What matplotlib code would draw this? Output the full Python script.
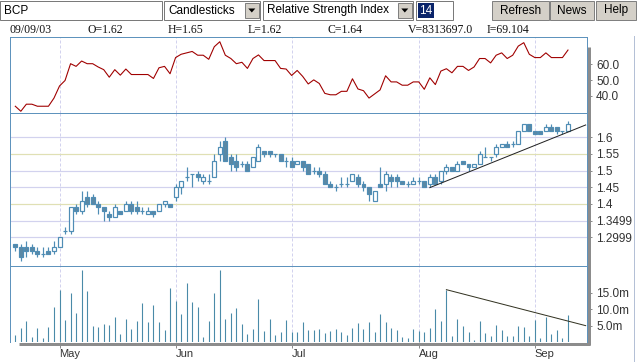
import matplotlib
matplotlib.use("Agg")
import matplotlib.pyplot as plt
from matplotlib.patches import Rectangle, Polygon

# ---- data (one bar per trading day, 101 days) ----
opens = [1.28, 1.27, 1.27, 1.27, 1.26, 1.25, 1.26, 1.26, 1.27, 1.32,
         1.32, 1.39, 1.38, 1.42, 1.42, 1.40, 1.39, 1.37, 1.36, 1.38,
         1.38, 1.40, 1.39, 1.38, 1.37, 1.38, 1.38, 1.40, 1.40, 1.42,
         1.45, 1.48, 1.49, 1.49, 1.47, 1.47, 1.48, 1.55, 1.59, 1.54,
         1.53, 1.52, 1.52, 1.51, 1.53, 1.56, 1.56, 1.55, 1.55, 1.53,
         1.53, 1.52, 1.53, 1.52, 1.50, 1.50, 1.49, 1.46, 1.45, 1.46,
         1.46, 1.47, 1.48, 1.46, 1.45, 1.41, 1.46, 1.46, 1.48, 1.48,
         1.47, 1.46, 1.46, 1.47, 1.47, 1.46, 1.48, 1.47, 1.50, 1.51,
         1.50, 1.53, 1.52, 1.51, 1.52, 1.54, 1.54, 1.55, 1.57, 1.58,
         1.58, 1.58, 1.62, 1.64, 1.62, 1.62, 1.62, 1.63, 1.63, 1.62,
         1.62]
highs = [1.28, 1.28, 1.29, 1.28, 1.27, 1.27, 1.27, 1.29, 1.30, 1.33,
         1.39, 1.40, 1.44, 1.44, 1.43, 1.41, 1.39, 1.38, 1.40, 1.38,
         1.41, 1.41, 1.41, 1.39, 1.39, 1.38, 1.40, 1.41, 1.40, 1.46,
         1.47, 1.51, 1.49, 1.50, 1.49, 1.49, 1.55, 1.59, 1.60, 1.55,
         1.55, 1.53, 1.53, 1.54, 1.58, 1.56, 1.56, 1.55, 1.55, 1.54,
         1.54, 1.53, 1.53, 1.52, 1.51, 1.51, 1.50, 1.47, 1.46, 1.48,
         1.48, 1.49, 1.49, 1.47, 1.45, 1.44, 1.51, 1.50, 1.49, 1.49,
         1.47, 1.47, 1.48, 1.48, 1.47, 1.49, 1.49, 1.50, 1.52, 1.51,
         1.53, 1.53, 1.52, 1.52, 1.56, 1.57, 1.54, 1.58, 1.58, 1.59,
         1.59, 1.62, 1.64, 1.64, 1.62, 1.62, 1.64, 1.64, 1.63, 1.62,
         1.65]
lows = [1.26, 1.23, 1.24, 1.25, 1.24, 1.24, 1.25, 1.25, 1.27, 1.31,
        1.31, 1.37, 1.37, 1.39, 1.40, 1.37, 1.35, 1.35, 1.36, 1.37,
        1.38, 1.37, 1.37, 1.37, 1.37, 1.36, 1.38, 1.39, 1.39, 1.41,
        1.43, 1.47, 1.45, 1.47, 1.46, 1.46, 1.48, 1.53, 1.53, 1.50,
        1.50, 1.51, 1.50, 1.51, 1.53, 1.54, 1.54, 1.54, 1.53, 1.51,
        1.51, 1.52, 1.50, 1.49, 1.49, 1.48, 1.46, 1.45, 1.44, 1.45,
        1.45, 1.47, 1.45, 1.44, 1.41, 1.41, 1.45, 1.44, 1.45, 1.45,
        1.46, 1.45, 1.46, 1.46, 1.45, 1.45, 1.46, 1.46, 1.49, 1.50,
        1.50, 1.52, 1.50, 1.51, 1.52, 1.54, 1.53, 1.54, 1.57, 1.57,
        1.57, 1.58, 1.62, 1.62, 1.61, 1.61, 1.62, 1.62, 1.61, 1.61,
        1.62]
closes = [1.27, 1.24, 1.26, 1.26, 1.25, 1.25, 1.25, 1.27, 1.30, 1.32,
          1.39, 1.38, 1.41, 1.40, 1.40, 1.39, 1.38, 1.36, 1.39, 1.37,
          1.40, 1.38, 1.38, 1.38, 1.38, 1.37, 1.40, 1.41, 1.39, 1.45,
          1.47, 1.48, 1.49, 1.48, 1.48, 1.47, 1.53, 1.57, 1.53, 1.52,
          1.51, 1.52, 1.50, 1.54, 1.57, 1.55, 1.55, 1.55, 1.53, 1.53,
          1.51, 1.53, 1.51, 1.49, 1.50, 1.49, 1.46, 1.45, 1.45, 1.46,
          1.46, 1.49, 1.46, 1.45, 1.43, 1.44, 1.45, 1.49, 1.47, 1.47,
          1.46, 1.46, 1.47, 1.47, 1.45, 1.48, 1.46, 1.50, 1.51, 1.50,
          1.52, 1.52, 1.51, 1.52, 1.55, 1.54, 1.54, 1.57, 1.58, 1.57,
          1.58, 1.62, 1.64, 1.62, 1.61, 1.61, 1.63, 1.62, 1.62, 1.62,
          1.64]
rsi = [33.3, 30.1, 34.6, 34.6, 33.3, 33.3, 33.3, 38.5, 46.2, 49.7,
       60.4, 58.7, 62.1, 60.4, 60.4, 58.3, 56.6, 51.8, 56.6, 53.1,
       57.0, 53.5, 53.5, 53.5, 53.5, 51.0, 57.8, 58.7, 54.0, 64.3,
       66.4, 67.3, 68.2, 65.8, 65.8, 63.2, 71.2, 74.4, 65.8, 63.7,
       60.4, 61.3, 57.4, 63.7, 66.0, 62.4, 62.4, 62.4, 57.4, 57.0,
       52.9, 56.1, 52.3, 47.5, 50.1, 47.8, 41.5, 40.6, 40.6, 42.8,
       42.8, 50.8, 44.3, 43.2, 38.5, 41.1, 43.7, 52.7, 48.8, 48.8,
       46.7, 46.7, 48.8, 48.8, 44.1, 51.4, 47.1, 55.7, 57.2, 54.6,
       58.7, 58.7, 56.1, 58.3, 63.7, 63.7, 60.9, 65.8, 67.3, 63.7,
       65.8, 71.6, 73.8, 66.4, 64.3, 64.3, 67.3, 64.3, 64.3, 64.3,
       69.1]
volume_m = [2.2, 4.4, 6.5, 1.6, 4.4, 1.3, 4.7, 10.8, 16.0, 6.8,
            15.1, 9.0, 22.1, 15.7, 5.0, 4.7, 5.6, 5.3, 7.7, 2.5,
            7.1, 4.1, 6.5, 12.0, 6.2, 11.4, 6.2, 3.8, 16.6, 12.6,
            8.7, 18.1, 12.3, 10.8, 1.6, 6.5, 15.1, 22.1, 7.1, 9.0,
            10.5, 5.6, 2.5, 4.1, 13.2, 3.5, 7.1, 2.2, 3.2, 6.8,
            3.2, 3.2, 6.2, 3.8, 3.8, 4.1, 2.8, 3.5, 4.1, 3.2,
            2.2, 4.4, 5.9, 4.1, 6.2, 3.2, 8.7, 6.2, 4.4, 3.8,
            1.6, 1.3, 4.1, 3.5, 3.2, 4.4, 10.2, 6.5, 16.0, 1.9,
            7.1, 5.0, 3.2, 0.7, 6.5, 2.8, 1.9, 5.3, 3.8, 1.9,
            1.9, 5.0, 4.7, 1.9, 6.8, 1.3, 7.7, 2.5, 3.8, 1.3,
            8.3]

month_idx = [8, 29, 50, 73, 94]
month_labels = ["May", "Jun", "Jul", "Aug", "Sep"]

price_ticks = [1.2999, 1.3499, 1.4, 1.45, 1.5, 1.55, 1.6]
price_tick_labels = ["1.2999", "1.3499", "1.4", "1.45", "1.5", "1.55", "1.6"]
rsi_ticks = [40, 50, 60]
rsi_tick_labels = ["40.0", "50.0", "60.0"]
vol_ticks = [5, 10, 15]
vol_tick_labels = ["5.0m", "10.0m", "15.0m"]

# hand drawn trend lines (index, value)
price_trend_x = [75, 103.2]
price_trend_y = [1.449, 1.637]
vol_trend_x = [78, 103.2]
vol_trend_y = [16.0, 5.0]

info_texts = ["09/09/03", "O=1.62", "H=1.65", "L=1.62", "C=1.64",
              "V=8313697.0", "I=69.104"]

# ---- styling ----
SANS = ["Liberation Sans", "DejaVu Sans"]
SERIF = ["Liberation Serif", "DejaVu Serif"]
PX = 0.72  # one pixel in points at 100 dpi
EDGE = "#4f8db5"
FILL = "#5b88a4"
SPINE = "#5e93bd"
GRID = "#d2d2ee"
GRID_Y = "#e0e0b4"
GREY = "#8c8c8c"

W, H = 637, 362
fig = plt.figure(figsize=(W / 100, H / 100), dpi=100)


def box(x0, y0, x1, y1):
    # pixel box (top-left origin) -> figure fraction rect
    return [x0 / W, 1 - y1 / H, (x1 - x0) / W, (y1 - y0) / H]


# background layer for the toolbar and the info row
bg = fig.add_axes([0, 0, 1, 1], zorder=0)
bg.set_xlim(0, W)
bg.set_ylim(H, 0)
bg.axis("off")


def field(x0, x1, text, arrow=False):
    bg.add_patch(Rectangle((x0, 0.5), x1 - x0, 19, facecolor="white",
                           edgecolor="#7a7a7a", lw=PX))
    bg.text(x0 + 4, 10.5, text, fontsize=8.5, va="center", family=SANS)
    if arrow:
        bg.add_patch(Rectangle((x1 - 15, 2.5), 13.5, 15, facecolor="#d4d0c8",
                               edgecolor="#808080", lw=PX))
        cx = x1 - 8.2
        bg.add_patch(Polygon([[cx - 3.5, 8.5], [cx + 3.5, 8.5], [cx, 12.5]],
                             closed=True, facecolor="black", edgecolor="none"))


def button(x0, x1, text):
    bg.add_patch(Rectangle((x0, 0.5), x1 - x0, 19, facecolor="#d4d0c8",
                           edgecolor="#808080", lw=PX))
    bg.text((x0 + x1) / 2, 10.5, text, fontsize=8.5, va="center", ha="center",
            family=SANS)


field(0, 162, "BCP")
field(164, 260, "Candlesticks", arrow=True)
field(263, 413, "Relative Strength Index", arrow=True)
bg.add_patch(Rectangle((416, 0.5), 37, 19, facecolor="white",
                       edgecolor="#7a7a7a", lw=PX))
bg.add_patch(Rectangle((418, 3), 16, 14.5, facecolor="#0a246a", edgecolor="none"))
bg.text(419, 10.5, "14", fontsize=8.5, va="center", color="white", family=SANS)
button(492, 549, "Refresh")
button(550, 594, "News")
button(596, 636, "Help")

info_x = [9, 88, 168, 248, 328, 408, 487]
for x, t in zip(info_x, info_texts):
    bg.text(x, 30, t, fontsize=8.5, va="center", family=SERIF, color="#111111")

# ---- the three panels ----
ax_r = fig.add_axes(box(9.5, 36.7, 587, 113.3), zorder=2)
ax_c = fig.add_axes(box(9.5, 113.3, 587, 265.7), zorder=2)
ax_v = fig.add_axes(box(9.5, 265.7, 587, 342), zorder=2)

n = len(closes)
idx = list(range(n))

for ax in (ax_r, ax_c, ax_v):
    ax.set_xlim(-1.05, 103.44)
    for s in ax.spines.values():
        s.set_color(SPINE)
        s.set_linewidth(PX)
    ax.yaxis.tick_right()
    ax.tick_params(axis="y", direction="out", length=3.6, width=PX,
                   color=GREY, labelsize=8.5, labelcolor="#333333", pad=2.9)
    ax.set_xticks(month_idx)
    for m in month_idx:
        ax.axvline(m, color=GRID, lw=PX, ls=(0, (3, 2)), zorder=0)

ax_v.spines["bottom"].set_visible(False)

# RSI panel
ax_r.set_ylim(28.8, 77.6)
ax_r.plot(idx, rsi, color="#a00000", lw=PX * 1.1)
ax_r.set_yticks(rsi_ticks)
ax_r.set_yticklabels(rsi_tick_labels, family=SANS)
ax_r.tick_params(axis="x", length=0, labelbottom=False)

# candlestick panel
ax_c.set_ylim(1.2148, 1.672)
ax_c.set_yticks(price_ticks)
ax_c.set_yticklabels(price_tick_labels, family=SANS)
ax_c.tick_params(axis="x", length=0, labelbottom=False)
for t in price_ticks:
    col = GRID_Y if t in (1.55, 1.4) else GRID
    ax_c.axhline(t, color=col, lw=PX * 1.2, zorder=0)

bw = 0.72
for i in idx:
    o, h, l, c = opens[i], highs[i], lows[i], closes[i]
    ax_c.vlines(i, l, h, color=EDGE, lw=PX * 1.2, zorder=2)
    if c > o:
        ax_c.add_patch(Rectangle((i - bw / 2, o), bw, c - o, facecolor="white",
                                 edgecolor=EDGE, lw=PX * 1.2, zorder=3))
    elif c < o:
        ax_c.add_patch(Rectangle((i - bw / 2, c), bw, o - c, facecolor=FILL,
                                 edgecolor=EDGE, lw=PX * 1.2, zorder=3))
    else:
        ax_c.hlines(o, i - bw / 2, i + bw / 2, color=EDGE, lw=PX * 1.2, zorder=3)

ax_c.plot(price_trend_x, price_trend_y, color="#222222", lw=PX, zorder=4,
          clip_on=False)

# volume panel
ax_v.set_ylim(0, 23.33)
ax_v.vlines(idx, 0, volume_m, color="#4a8aa8", lw=PX * 1.1)
ax_v.plot(vol_trend_x, vol_trend_y, color="#333322", lw=PX, clip_on=False)
ax_v.set_yticks(vol_ticks)
ax_v.set_yticklabels(vol_tick_labels, family=SANS)
ax_v.set_xticklabels(month_labels, family=SANS, fontsize=8, color="#333333")
ax_v.tick_params(axis="x", direction="out", length=4.0, width=PX, color=GREY,
                 pad=1.0)
for lbl in ax_v.get_xticklabels():
    lbl.set_ha("left")

# ---- overlay: grey axis bars and right frame line ----
ov = fig.add_axes([0, 0, 1, 1], zorder=10)
ov.set_xlim(0, W)
ov.set_ylim(H, 0)
ov.patch.set_alpha(0)
ov.axis("off")
ov.plot([588.5, 588.5], [46.7, 345], color=GREY, lw=3 * PX,
        solid_capstyle="butt")
ov.plot([19, 590], [343.5, 343.5], color=GREY, lw=3 * PX,
        solid_capstyle="butt")
ov.plot([634, 634], [36, 362], color="#b4c0d6", lw=PX)

fig.savefig("out.png", dpi=100)
